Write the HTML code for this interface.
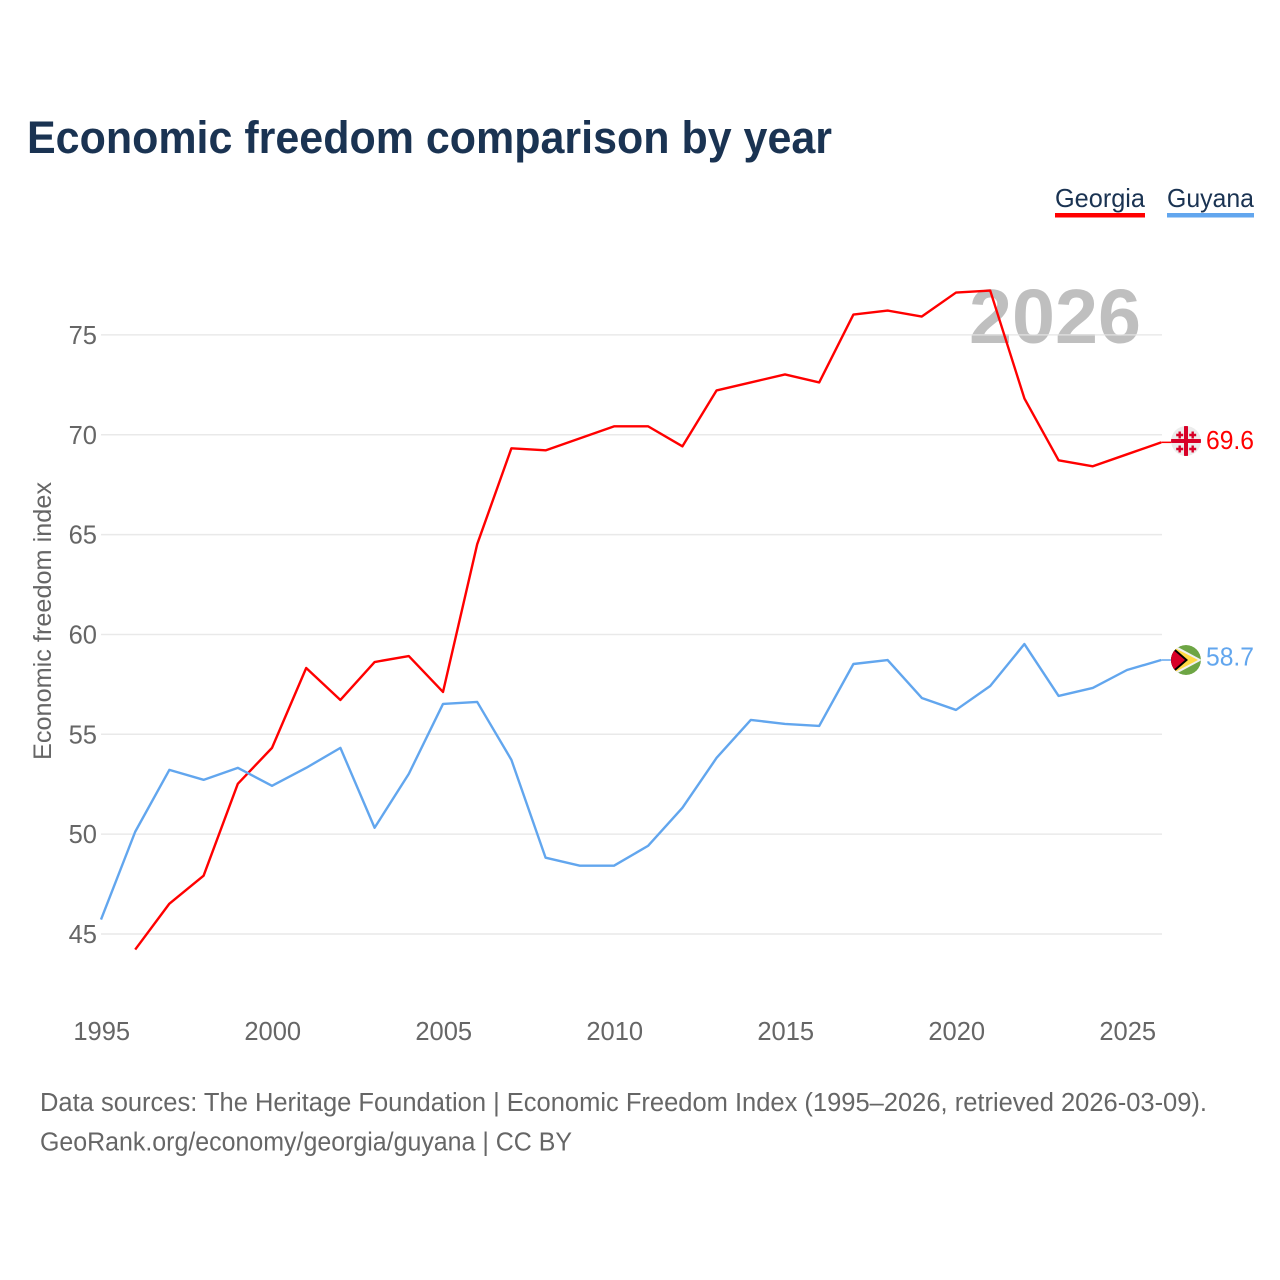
<!DOCTYPE html>
<html lang="en">
<head>
<meta charset="utf-8">
<title>Economic freedom comparison by year</title>
<style>
html,body{margin:0;padding:0;background:#fff;width:1280px;height:1280px;overflow:hidden}
svg{display:block}
text{font-family:"Liberation Sans",sans-serif}
</style>
</head>
<body>
<svg id="chart" xmlns="http://www.w3.org/2000/svg" width="1280" height="1280" viewBox="0 0 1280 1280">
  <defs>
    <clipPath id="clip-georgia"><circle cx="1186" cy="441" r="15"/></clipPath>
    <clipPath id="clip-guyana"><circle cx="1186" cy="660" r="15"/></clipPath>
  </defs>
  <rect x="0" y="0" width="1280" height="1280" fill="#fff"/>
  <text x="27" y="153" font-size="45" font-weight="700" fill="#1a3352" textLength="805" lengthAdjust="spacingAndGlyphs">Economic freedom comparison by year</text>

  <g>
    <g>
      <text x="1055" y="207" font-size="26" fill="#1a3352" textLength="90" lengthAdjust="spacingAndGlyphs">Georgia</text>
      <rect x="1055" y="213" width="90" height="4.500" fill="#ff0000"/>
    </g>
    <g>
      <text x="1167" y="207" font-size="26" fill="#1a3352" textLength="87" lengthAdjust="spacingAndGlyphs">Guyana</text>
      <rect x="1167" y="213" width="87" height="4.500" fill="#62a6ee"/>
    </g>
  </g>

  <text x="1055" y="343" font-size="77" font-weight="700" fill="#bfbfbf" text-anchor="middle" textLength="172" lengthAdjust="spacingAndGlyphs">2026</text>

  <g id="grid"></g>
  <g id="y-ticks"></g>
  <g id="x-ticks"></g>

  <text transform="translate(51,621) rotate(-90)" font-size="25" fill="#666" text-anchor="middle" textLength="278" lengthAdjust="spacingAndGlyphs">Economic freedom index</text>

  <g id="series"></g>

  <g clip-path="url(#clip-georgia)">
    <circle cx="1186" cy="441" r="15" fill="#ececec"/>
    <rect x="1184" y="426" width="4" height="30" fill="#d80027"/>
    <rect x="1171" y="439" width="30" height="4" fill="#d80027"/>
    <path d="M1178.500 431.500h2.400v2.300h2.300v2.400h-2.300v2.300h-2.400v-2.300h-2.300v-2.400h2.300z" fill="#d80027"/>
    <path d="M1191.500 431.500h2.400v2.300h2.300v2.400h-2.300v2.300h-2.400v-2.300h-2.300v-2.400h2.300z" fill="#d80027"/>
    <path d="M1178.500 445.500h2.400v2.300h2.300v2.400h-2.300v2.300h-2.400v-2.300h-2.300v-2.400h2.300z" fill="#d80027"/>
    <path d="M1191.500 445.500h2.400v2.300h2.300v2.400h-2.300v2.300h-2.400v-2.300h-2.300v-2.400h2.300z" fill="#d80027"/>
  </g>
  <g clip-path="url(#clip-guyana)">
    <circle cx="1186" cy="660" r="15" fill="#6da544"/>
    <path d="M1174 645L1202 660L1174 675Z" fill="#f0f0f0"/>
    <path d="M1173 647L1198 660L1173 673Z" fill="#ffda44"/>
    <path d="M1174 648L1188 660L1174 672L1170 672L1170 648Z" fill="#000"/>
    <path d="M1171 648L1185 660L1171 672Z" fill="#d80027"/>
  </g>

  <text id="value-georgia" x="1206" y="449" font-size="25.500" fill="#ff0000" textLength="48" lengthAdjust="spacingAndGlyphs"></text>
  <text id="value-guyana" x="1206" y="665.500" font-size="25.500" fill="#62a6ee" textLength="48" lengthAdjust="spacingAndGlyphs"></text>

  <g>
    <text x="40" y="1111" font-size="25.500" fill="#666" textLength="1167" lengthAdjust="spacingAndGlyphs">Data sources: The Heritage Foundation | Economic Freedom Index (1995–2026, retrieved 2026-03-09).</text>
    <text x="40" y="1150.500" font-size="25.500" fill="#666" textLength="532" lengthAdjust="spacingAndGlyphs">GeoRank.org/economy/georgia/guyana | CC BY</text>
  </g>
</svg>
<script>
const years = [1995,1996,1997,1998,1999,2000,2001,2002,2003,2004,2005,2006,2007,2008,2009,2010,2011,2012,2013,2014,2015,2016,2017,2018,2019,2020,2021,2022,2023,2024,2025,2026];
const georgiaValues = [null,44.2,46.5,47.9,52.5,54.3,58.3,56.7,58.6,58.9,57.1,64.5,69.3,69.2,69.8,70.4,70.4,69.4,72.2,72.6,73.0,72.6,76.0,76.2,75.9,77.1,77.2,71.8,68.7,68.4,69.0,69.6];
const guyanaValues = [45.7,50.1,53.2,52.7,53.3,52.4,53.3,54.3,50.3,53.0,56.5,56.6,53.7,48.8,48.4,48.4,49.4,51.3,53.8,55.7,55.5,55.4,58.5,58.7,56.8,56.2,57.4,59.5,56.9,57.3,58.2,58.7];
const yTickValues = [45,50,55,60,65,70,75];
const xTickValues = [1995,2000,2005,2010,2015,2020,2025];

const NS = 'http://www.w3.org/2000/svg';
function xScale(year){ return 101 + (year - 1995) * 34.2; }
function yScale(value){ return 934 - (value - 45) * 19.97; }
function pathFor(values){
  let d = '';
  values.forEach(function(v, i){
    if (v === null) return;
    d += (d ? 'L' : 'M') + xScale(years[i]).toFixed(2) + ' ' + (yScale(v) - 0.4).toFixed(2);
  });
  return d;
}

const grid = document.getElementById('grid');
const yTicks = document.getElementById('y-ticks');
yTickValues.forEach(function(v){
  const line = document.createElementNS(NS, 'line');
  
  
  line.setAttribute('x1', xScale(1995));
  line.setAttribute('x2', xScale(2026) + 0.8);
  line.setAttribute('y1', yScale(v));
  line.setAttribute('y2', yScale(v));
  line.setAttribute('stroke', '#e4e4e4');
  line.setAttribute('stroke-opacity', '0.8');
  line.setAttribute('stroke-width', '1.5');
  grid.appendChild(line);

  const label = document.createElementNS(NS, 'text');
  
  
  label.setAttribute('x', 97);
  label.setAttribute('y', yScale(v) + 9);
  label.setAttribute('font-size', '25.5');
  label.setAttribute('fill', '#666');
  label.setAttribute('text-anchor', 'end');
  label.textContent = v;
  yTicks.appendChild(label);
});

const xTicks = document.getElementById('x-ticks');
xTickValues.forEach(function(year){
  const label = document.createElementNS(NS, 'text');
  
  
  label.setAttribute('x', xScale(year) + 0.7);
  label.setAttribute('y', 1040);
  label.setAttribute('font-size', '25.5');
  label.setAttribute('fill', '#666');
  label.setAttribute('text-anchor', 'middle');
  label.textContent = year;
  xTicks.appendChild(label);
});

const series = document.getElementById('series');

const georgiaLine = document.createElementNS(NS, 'path');


georgiaLine.setAttribute('d', pathFor(georgiaValues));
georgiaLine.setAttribute('fill', 'none');
georgiaLine.setAttribute('stroke', '#ff0000');
georgiaLine.setAttribute('stroke-width', '2.4');
georgiaLine.setAttribute('stroke-linejoin', 'round');
series.appendChild(georgiaLine);

const guyanaLine = document.createElementNS(NS, 'path');


guyanaLine.setAttribute('d', pathFor(guyanaValues));
guyanaLine.setAttribute('fill', 'none');
guyanaLine.setAttribute('stroke', '#62a6ee');
guyanaLine.setAttribute('stroke-width', '2.4');
guyanaLine.setAttribute('stroke-linejoin', 'round');
series.appendChild(guyanaLine);

const georgiaLast = georgiaValues[georgiaValues.length - 1];
const guyanaLast = guyanaValues[guyanaValues.length - 1];

const georgiaConnector = document.createElementNS(NS, 'line');


georgiaConnector.setAttribute('x1', xScale(2026));
georgiaConnector.setAttribute('x2', xScale(2026) + 10);
georgiaConnector.setAttribute('y1', yScale(georgiaLast) - 0.4);
georgiaConnector.setAttribute('y2', yScale(georgiaLast) - 0.4);
georgiaConnector.setAttribute('stroke', '#ff0000');
georgiaConnector.setAttribute('stroke-width', '1.5');
series.appendChild(georgiaConnector);

const guyanaConnector = document.createElementNS(NS, 'line');


guyanaConnector.setAttribute('x1', xScale(2026));
guyanaConnector.setAttribute('x2', xScale(2026) + 10);
guyanaConnector.setAttribute('y1', yScale(guyanaLast) - 0.4);
guyanaConnector.setAttribute('y2', yScale(guyanaLast) - 0.4);
guyanaConnector.setAttribute('stroke', '#62a6ee');
guyanaConnector.setAttribute('stroke-width', '1.5');
series.appendChild(guyanaConnector);

document.getElementById('value-georgia').textContent = georgiaLast.toFixed(1);
document.getElementById('value-guyana').textContent = guyanaLast.toFixed(1);
</script>
</body>
</html>
